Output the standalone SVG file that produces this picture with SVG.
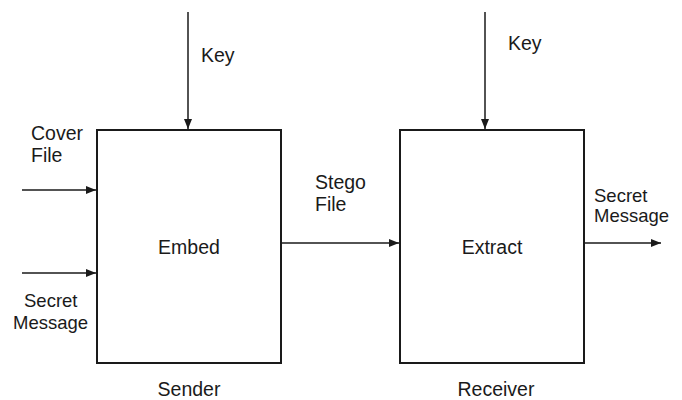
<svg xmlns="http://www.w3.org/2000/svg" width="682" height="400" viewBox="0 0 682 400">
<style>
.box{fill:#fff;stroke:#1a1a1a;stroke-width:2}
.ln{stroke:#1a1a1a;stroke-width:1.5;fill:none;marker-end:url(#ah)}
text{font-family:"Liberation Sans",Arial,sans-serif;fill:#1a1a1a}
.l{font-size:19.5px}
.s{font-size:18.5px}
.c{text-anchor:middle}
</style>
<defs>
<marker id="ah" viewBox="0 0 10 10" refX="10" refY="5" markerWidth="10" markerHeight="10" markerUnits="userSpaceOnUse" orient="auto">
<path d="M0,1 L10,5 L0,9 Z" fill="#1a1a1a"/>
</marker>
</defs>
<rect width="682" height="400" fill="#fff"/>
<g id="connectors">
<line class="ln" x1="188" y1="12" x2="188" y2="129"/>
<line class="ln" x1="485" y1="12" x2="485" y2="129"/>
<line class="ln" x1="22" y1="190" x2="96" y2="190"/>
<line class="ln" x1="22" y1="273" x2="96" y2="273"/>
<line class="ln" x1="282" y1="243" x2="399" y2="243"/>
<line class="ln" x1="585" y1="243" x2="661" y2="243"/>
</g>
<g id="embed">
<rect class="box" x="97" y="130" width="184" height="233"/>
<text class="l c" x="189" y="254">Embed</text>
</g>
<g id="extract">
<rect class="box" x="400" y="130" width="184" height="233"/>
<text class="l c" x="492" y="254">Extract</text>
</g>
<g id="labels">
<text class="l" x="201" y="62">Key</text>
<text class="l" x="508" y="50">Key</text>
<text class="l" x="31" y="140">Cover</text>
<text class="l" x="31" y="162">File</text>
<text class="s" x="24" y="307">Secret</text>
<text class="s" x="13" y="329">Message</text>
<text class="l" x="315" y="189">Stego</text>
<text class="l" x="315" y="211">File</text>
<text class="s" x="594" y="202">Secret</text>
<text class="s" x="594" y="222">Message</text>
<text class="l c" x="189" y="396">Sender</text>
<text class="l c" x="496" y="396">Receiver</text>
</g>
</svg>
